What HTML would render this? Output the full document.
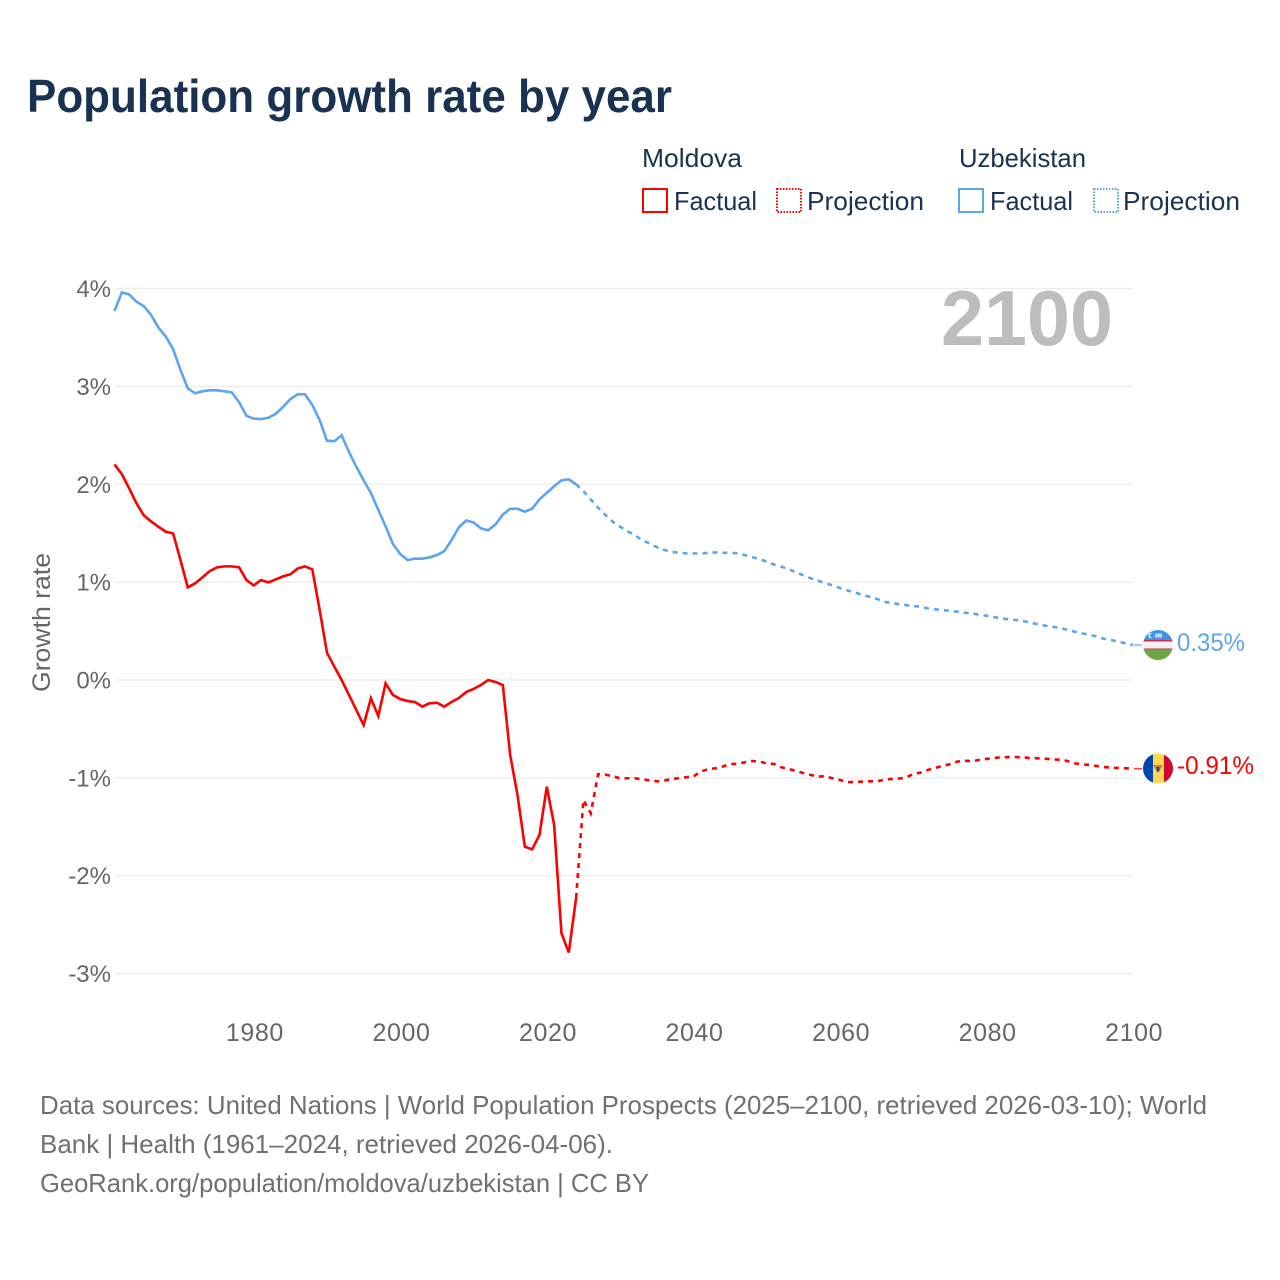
<!DOCTYPE html>
<html lang="en">
<head>
<meta charset="utf-8">
<title>Population growth rate by year</title>
<style>
html,body{margin:0;padding:0;background:#fff}
svg{display:block}
text{font-family:"Liberation Sans",sans-serif}
</style>
</head>
<body>
<svg id="chart" xmlns="http://www.w3.org/2000/svg" width="1280" height="1280" viewBox="0 0 1280 1280">
  <rect width="1280" height="1280" fill="#fff"/>
  <text x="27" y="112" font-size="46" font-weight="700" fill="#1a3252" textLength="645" lengthAdjust="spacingAndGlyphs">Population growth rate by year</text>

  <g font-size="26" fill="#1a3252">
    <text x="642" y="167" textLength="100" lengthAdjust="spacingAndGlyphs">Moldova</text>
    <text x="959" y="167" textLength="127" lengthAdjust="spacingAndGlyphs">Uzbekistan</text>
    <g>
      <rect x="643" y="189" width="24" height="23" fill="none" stroke="#ff0000" stroke-width="2"/>
      <text x="674" y="210" textLength="83" lengthAdjust="spacingAndGlyphs">Factual</text>
    </g>
    <g>
      <rect x="777" y="189" width="24" height="23" fill="none" stroke="#ff0000" stroke-width="2" stroke-dasharray="1.5 1.5"/>
      <text x="807" y="210" textLength="117" lengthAdjust="spacingAndGlyphs">Projection</text>
    </g>
    <g>
      <rect x="959" y="189" width="24" height="23" fill="none" stroke="#5ca5ee" stroke-width="2"/>
      <text x="990" y="210" textLength="83" lengthAdjust="spacingAndGlyphs">Factual</text>
    </g>
    <g>
      <rect x="1094" y="189" width="24" height="23" fill="none" stroke="#5ca5ee" stroke-width="2" stroke-dasharray="1.5 1.5"/>
      <text x="1123" y="210" textLength="117" lengthAdjust="spacingAndGlyphs">Projection</text>
    </g>
  </g>

  <g id="grid"></g>
  <g id="yticks"></g>
  <g id="xticks"></g>

  <text transform="translate(50,622.5) rotate(-90)" text-anchor="middle" font-size="25" fill="#666" textLength="139" lengthAdjust="spacingAndGlyphs">Growth rate</text>
  <text x="941" y="345" font-size="78" font-weight="700" fill="#bdbdbd" textLength="172" lengthAdjust="spacingAndGlyphs">2100</text>

  <g id="series"></g>

  <defs>
    <clipPath id="clip-uz"><circle cx="1158" cy="645" r="15"/></clipPath>
    <clipPath id="clip-md"><circle cx="1158" cy="768.5" r="15"/></clipPath>
  </defs>
  <g clip-path="url(#clip-uz)">
    <rect x="1143" y="630" width="30" height="10" fill="#3d93ea"/>
    <rect x="1143" y="640" width="30" height="1.5" fill="#ce2c4f"/>
    <rect x="1143" y="641.5" width="30" height="7" fill="#f2f2f2"/>
    <rect x="1143" y="648.5" width="30" height="1.2" fill="#ce2c4f"/>
    <rect x="1143" y="649.7" width="30" height="10.3" fill="#6ca544"/>
    <circle cx="1151" cy="635.5" r="2.6" fill="#fff"/>
    <circle cx="1152.2" cy="635.5" r="2.2" fill="#3d93ea"/>
    <rect x="1155" y="633.5" width="7" height="4" fill="#bcd8f6"/>
  </g>
  <g clip-path="url(#clip-md)">
    <rect x="1143" y="753" width="10" height="31" fill="#0046ae"/>
    <rect x="1153" y="753" width="11" height="31" fill="#ffd84f"/>
    <rect x="1164" y="753" width="9" height="31" fill="#cc092f"/>
    <polygon points="1153,765 1163,765 1160.5,769 1158,773 1155.5,769" fill="#c9812f"/>
    <rect x="1156.5" y="767" width="3" height="4.5" fill="#24508c"/>
  </g>

  <text x="1177" y="651" font-size="25" fill="#5ca5ee" textLength="68" lengthAdjust="spacingAndGlyphs">0.35%</text>
  <text x="1177" y="774" font-size="25" fill="#ff0000" textLength="77" lengthAdjust="spacingAndGlyphs">-0.91%</text>

  <g font-size="26" fill="#707070">
    <text x="40" y="1114" textLength="1167" lengthAdjust="spacingAndGlyphs">Data sources: United Nations | World Population Prospects (2025–2100, retrieved 2026-03-10); World</text>
    <text x="40" y="1153" textLength="573" lengthAdjust="spacingAndGlyphs">Bank | Health (1961–2024, retrieved 2026-04-06).</text>
    <text x="40" y="1192" textLength="609" lengthAdjust="spacingAndGlyphs">GeoRank.org/population/moldova/uzbekistan | CC BY</text>
  </g>
</svg>
<script>
const startYear = 1961;
const lastFactualYear = 2024;
const xTickYears = [1980, 2000, 2020, 2040, 2060, 2080, 2100];
const yTickValues = [4, 3, 2, 1, 0, -1, -2, -3];

const moldovaValues = [
  2.203, 2.104, 1.958, 1.805, 1.682, 1.62, 1.566, 1.515, 1.498, 1.226,
  0.947, 0.987, 1.049, 1.113, 1.151, 1.161, 1.161, 1.151, 1.021, 0.967,
  1.021, 0.998, 1.028, 1.059, 1.08, 1.14, 1.161, 1.13, 0.715, 0.279,
  0.136, 0.0, -0.153, -0.306, -0.46, -0.187, -0.368, -0.034, -0.153, -0.194,
  -0.215, -0.225, -0.272, -0.238, -0.232, -0.272, -0.225, -0.184, -0.123, -0.092,
  -0.051, 0.0, -0.02, -0.051, -0.766, -1.175, -1.703, -1.73, -1.583, -1.09,
  -1.48, -2.587, -2.785, -2.227, -1.226, -1.362, -0.963, -0.967, -0.984, -1.004,
  -1.004, -1.004, -1.015, -1.025, -1.035, -1.028, -1.011, -1.004, -0.994, -0.987,
  -0.936, -0.912, -0.902, -0.885, -0.858, -0.858, -0.841, -0.827, -0.834, -0.851,
  -0.858, -0.892, -0.909, -0.93, -0.95, -0.97, -0.987, -0.984, -1.004, -1.021,
  -1.045, -1.042, -1.039, -1.035, -1.035, -1.021, -1.011, -1.008, -0.998, -0.96,
  -0.947, -0.919, -0.899, -0.878, -0.861, -0.834, -0.824, -0.83, -0.817, -0.807,
  -0.797, -0.79, -0.787, -0.787, -0.79, -0.797, -0.8, -0.804, -0.81, -0.814,
  -0.827, -0.851, -0.861, -0.868, -0.878, -0.889, -0.895, -0.899, -0.902, -0.906
];

const uzbekistanValues = [
  3.77, 3.96, 3.94, 3.865, 3.82, 3.73, 3.6, 3.51, 3.38, 3.17,
  2.98, 2.93, 2.95, 2.96, 2.96, 2.95, 2.94, 2.84, 2.7, 2.67,
  2.666, 2.68, 2.72, 2.79, 2.87, 2.92, 2.92, 2.81, 2.656, 2.445,
  2.44, 2.5, 2.33, 2.18, 2.04, 1.91, 1.74, 1.57, 1.39, 1.287,
  1.226, 1.24, 1.24, 1.253, 1.277, 1.315, 1.43, 1.56, 1.63, 1.61,
  1.55, 1.53, 1.59, 1.69, 1.75, 1.75, 1.72, 1.75, 1.845, 1.913,
  1.98, 2.04, 2.05, 2.0, 1.93, 1.845, 1.76, 1.686, 1.617, 1.566,
  1.52, 1.48, 1.43, 1.396, 1.358, 1.33, 1.31, 1.3, 1.294, 1.294,
  1.29, 1.3, 1.304, 1.3, 1.3, 1.294, 1.277, 1.256, 1.236, 1.21,
  1.18, 1.158, 1.134, 1.1, 1.07, 1.04, 1.015, 0.99, 0.967, 0.94,
  0.916, 0.896, 0.871, 0.851, 0.83, 0.8, 0.787, 0.776, 0.766, 0.756,
  0.749, 0.732, 0.722, 0.715, 0.708, 0.698, 0.688, 0.681, 0.667, 0.657,
  0.643, 0.63, 0.62, 0.613, 0.603, 0.586, 0.569, 0.555, 0.545, 0.531,
  0.514, 0.494, 0.477, 0.463, 0.446, 0.422, 0.409, 0.391, 0.375, 0.357
];

const SVG_NS = 'http://www.w3.org/2000/svg';
function xScale(year) { return 114.5 + (year - 1961) * 7.327; }
function yScale(value) { return 680 - value * 97.86; }
function make(tag, attrs) {
  const el = document.createElementNS(SVG_NS, tag);
  for (const k in attrs) el.setAttribute(k, attrs[k]);
  return el;
}
function pathFor(values, fromYear, toYear) {
  const parts = [];
  for (let y = fromYear; y <= toYear; y++) {
    const v = values[y - startYear];
    parts.push((parts.length ? 'L' : 'M') + xScale(y).toFixed(2) + ' ' + yScale(v).toFixed(2));
  }
  return parts.join(' ');
}

const gridGroup = document.getElementById('grid');
const yGroup = document.getElementById('yticks');
yTickValues.forEach(function (v) {
  const line = make('line', { x1: 115, x2: 1133, y1: yScale(v), y2: yScale(v), stroke: '#ececec', 'stroke-width': 1.3 });
  
  
  gridGroup.appendChild(line);
  const label = make('text', { x: 111, y: yScale(v) + 8.5, 'text-anchor': 'end', 'font-size': 24, fill: '#666' });
  
  
  label.textContent = v + '%';
  yGroup.appendChild(label);
});

const xGroup = document.getElementById('xticks');
xTickYears.forEach(function (year) {
  const label = make('text', { x: xScale(year) + 1.2, y: 1041, 'text-anchor': 'middle', 'font-size': 25, fill: '#666', 'letter-spacing': 0.6 });
  
  
  label.textContent = year;
  xGroup.appendChild(label);
});

const seriesGroup = document.getElementById('series');
const lastYear = startYear + moldovaValues.length - 1;
[['moldova', moldovaValues, '#ff0000'], ['uzbekistan', uzbekistanValues, '#5ca5ee']].forEach(function (s) {
  const projection = make('path', { d: pathFor(s[1], lastFactualYear, lastYear), fill: 'none', stroke: s[2], 'stroke-width': 2.6, 'stroke-dasharray': '5 5' });
  
  
  seriesGroup.appendChild(projection);
  const factual = make('path', { d: pathFor(s[1], startYear, lastFactualYear), fill: 'none', stroke: s[2], 'stroke-width': 2.6, 'stroke-linejoin': 'miter' });
  
  
  seriesGroup.appendChild(factual);
  const endY = yScale(s[1][s[1].length - 1]);
  const leader = make('line', { x1: xScale(lastYear) + 1, x2: xScale(lastYear) + 9, y1: endY, y2: endY, stroke: s[2], 'stroke-width': 1.6, opacity: 0.75 });
  
  
  seriesGroup.appendChild(leader);
});
</script>
</body>
</html>
